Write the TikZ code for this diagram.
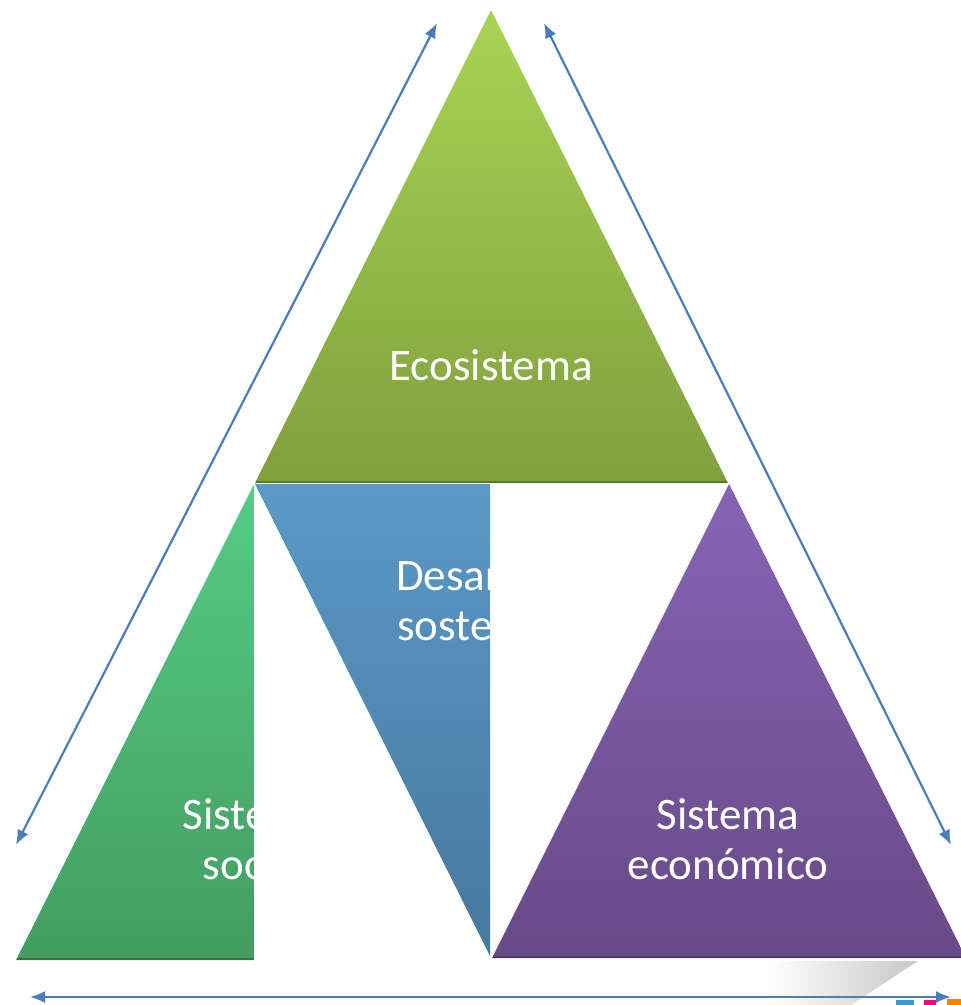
\documentclass[tikz,border=0pt]{standalone}
\usepackage{fontspec}
\setmainfont{Carlito}
\usetikzlibrary{arrows.meta}
\definecolor{arrowblue}{HTML}{4A7EBB}
\definecolor{ecoTop}{HTML}{A8D454}
\definecolor{ecoBot}{HTML}{809F3E}
\definecolor{socTop}{HTML}{56CC86}
\definecolor{socBot}{HTML}{439C60}
\definecolor{desTop}{HTML}{5B99C7}
\definecolor{desBot}{HTML}{45789E}
\definecolor{ecnTop}{HTML}{8664B3}
\definecolor{ecnBot}{HTML}{674A88}
\begin{document}
\begin{tikzpicture}[x=1pt,y=-1pt,
  lbl/.style={text=white, font=\fontsize{45}{50}\selectfont, inner sep=0pt, anchor=base},
  dbl/.style={arrowblue, line width=2.2pt, {Latex[length=15pt,width=12pt]}-{Latex[length=15pt,width=12pt]}},
  baseline shade/.style={line width=2pt}]
\useasboundingbox (0,0) rectangle (961,1005);

% bottom-right shadow and logo fragments
\shade[left color=white, right color=black!22] (770,961) -- (918,961) -- (851,1005) -- (770,1005) -- cycle;
\fill[arrowblue!80!cyan] (896,1000) rectangle (914,1005);
\fill[magenta!80!purple] (924,1000) rectangle (936,1005);
\fill[orange] (947,999) rectangle (961,1005);

% Sistema social (clipped)
\begin{scope}
  \clip (0,0) rectangle (253.5,1005);
  \shade[top color=socTop, bottom color=socBot] (254,484) -- (492,960) -- (16,960) -- cycle;
  \draw[socBot!75!black, baseline shade] (17,959) -- (492,959);
  \node[lbl] (soc1) at (254,829) {Sistema};
  \node[lbl] (soc2) at (254,879) {social};
\end{scope}

% Desarrollo sostenible (clipped)
\begin{scope}
  \clip (0,0) rectangle (490,1005);
  \shade[top color=desTop, bottom color=desBot] (255,484) -- (728,484) -- (491,958) -- cycle;
  \node[lbl] (des1) at (490,590) {Desarrollo};
  \node[lbl] (des2) at (490,640) {sostenible};
\end{scope}

% Ecosistema
\shade[top color=ecoTop, bottom color=ecoBot] (491,10) -- (728,483) -- (255,483) -- cycle;
\draw[ecoBot!75!black, baseline shade] (256,482) -- (727,482);
\node[lbl] (eco) at (491,380) {Ecosistema};

% Sistema economico
\shade[top color=ecnTop, bottom color=ecnBot] (729,484) -- (966,958) -- (492,958) -- cycle;
\draw[ecnBot!75!black, baseline shade] (493,957) -- (965,957);
\node[lbl] (ecn1) at (728,829) {Sistema};
\node[lbl] (ecn2) at (728,879) {económico};

% arrows
\coordinate (la1) at (16,845);
\coordinate (la2) at (437,23);
\coordinate (ra1) at (544,23);
\coordinate (ra2) at (951,845);
\coordinate (ba1) at (30,997);
\coordinate (ba2) at (951,997);
\draw[dbl] (la1) -- (la2);
\draw[dbl] (ra1) -- (ra2);
\draw[dbl] (ba1) -- (ba2);
\end{tikzpicture}
\end{document}
